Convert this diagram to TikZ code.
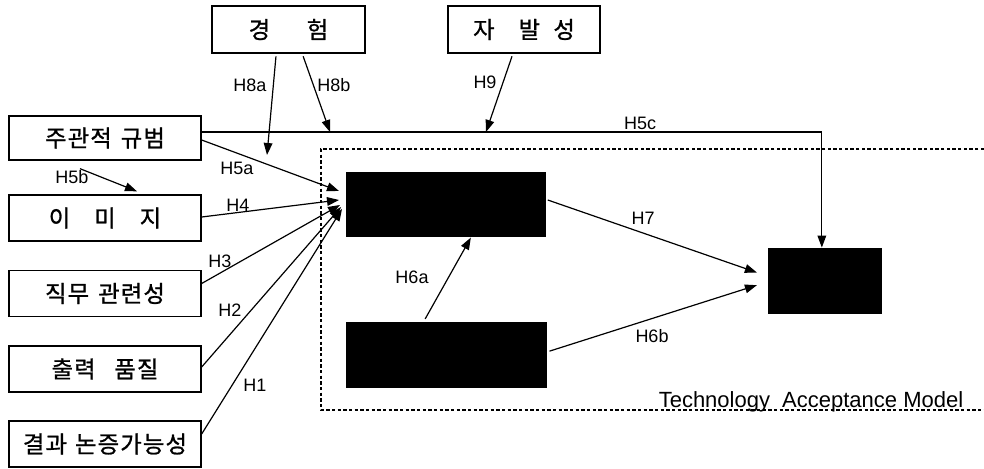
\documentclass[tikz,border=0pt]{standalone}
\usepackage{fontspec}
\setmainfont{Liberation Sans}
\newfontfamily\kor[FakeBold=1,LetterSpace=5]{Noto Sans CJK KR}
\usetikzlibrary{arrows.meta}
\usetikzlibrary{positioning}

\begin{document}
\begin{tikzpicture}[x=0.75pt, y=-0.75pt,
  box/.style={draw, line width=1pt, minimum width=144pt, minimum height=34.5pt, inner sep=0pt, font={\kor\fontsize{17.5}{19}\selectfont}},
  blk/.style={draw, fill=black, inner sep=0pt},
  hyp/.style={inner sep=0pt, font={\fontsize{13.5}{15}\selectfont}},
  arr/.style={-{Triangle[length=9pt,width=6.5pt]}, line width=0.9pt}]

\useasboundingbox (0,0) rectangle (984,468);

% moderators on top
\node[box, minimum width=114.75pt, minimum height=35.25pt] (exp) at (288.5,29.5) {경\hspace{27.5pt}험};
\node[box, minimum width=114pt, minimum height=35.25pt] (vol) at (524,29.5) {자\hspace{18pt}발\hspace{10pt}성};

% determinants on the left
\node[box, minimum height=33pt] (sn) at (105,138) {주관적\hspace{6.75pt}규범};
\node[box] (img) at (105,218) {이\hspace{18pt}미\hspace{18pt}지};
\node[box] (rel) at (105,293.5) {직무\hspace{6.75pt}관련성};
\node[box] (oq) at (105,369) {출력\hspace{14pt}품질};
\node[box] (rd) at (105,444) {결과\hspace{6pt}논증가능성};

% TAM
\node[blk, minimum width=149pt, minimum height=48pt] (pu) at (445.5,204) {};
\node[blk, minimum width=150pt, minimum height=49pt] (peu) at (446.5,354.5) {};
\node[blk, minimum width=85pt, minimum height=49pt] (bi) at (824.5,280.5) {};

\draw[dash pattern=on 2.5pt off 1.75pt, line width=0.8pt] (984,149) -- (321,149) -- (321,410) -- (984,410);
\node[anchor=base, font={\fontsize{16.5}{18}\selectfont}] (tam) at (811,407) {Technology\ \ Acceptance Model};

\coordinate (t8a) at (267,155);
\coordinate (t8b) at (330,132);
\coordinate (t9) at (486,132);
\coordinate (t5a) at (339,191);
\coordinate (t4) at (339,200);
\coordinate (t3) at (340,205);
\coordinate (t2) at (341,207);
\coordinate (t1) at (342,209);

\draw[arr] ([yshift=4.5pt]sn.east) -| ([xshift=-2pt]bi.north);
\draw[arr] ([xshift=-9.4pt,yshift=-2pt]exp.south) -- (t8a);
\draw[arr] ([xshift=11pt,yshift=-2pt]exp.south) -- (t8b);
\draw[arr] ([xshift=-9pt,yshift=-2pt]vol.south) -- (t9);
\draw[arr] ([yshift=-1.5pt]sn.east) -- (t5a);
\draw[arr] ([xshift=-18.75pt,yshift=-6pt]sn.south) -- ([xshift=24pt,yshift=2.25pt]img.north);
\draw[arr] ([yshift=0.75pt]img.east) -- (t4);
\draw[arr] ([yshift=7.5pt]rel.east) -- (t3);
\draw[arr] ([yshift=1.5pt]oq.east) -- (t2);
\draw[arr] ([yshift=7.5pt]rd.east) -- (t1);
\draw[arr] ([xshift=-16pt,yshift=2pt]peu.north) -- ([xshift=19pt,yshift=-1pt]pu.south);
\draw[arr] ([xshift=2pt,yshift=3pt]pu.east) -- ([xshift=-8pt,yshift=6pt]bi.west);
\draw[arr] ([xshift=2pt,yshift=2.5pt]peu.east) -- ([xshift=-8pt,yshift=-3.5pt]bi.west);

\foreach \n/\x/\y in {H8a/250/85, H8b/334/85, H9/485/82, H5c/640/123, H5a/237/168, H5b/72/177,
  H4/238/205, H3/220/261, H2/230/310, H1/255/385, H6a/412/277, H7/643/218, H6b/652/336}
\node[hyp] (\n) at (\x,\y) {\n};

\end{tikzpicture}
\end{document}
